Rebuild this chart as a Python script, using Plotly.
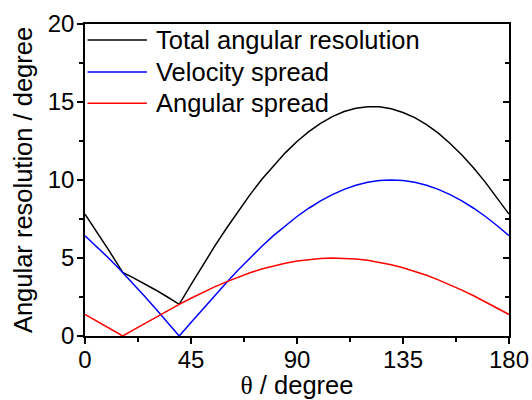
import plotly.graph_objects as go

theta = [0, 5, 10, 15, 16, 20, 25, 30, 35, 40, 45, 50, 55, 60, 65, 70, 75, 80, 85, 90,
         95, 100, 105, 110, 115, 120, 125, 130, 135, 140, 145, 150, 155, 160, 165,
         170, 175, 180]

total = [7.81, 6.69, 5.52, 4.32, 4.07, 3.77, 3.37, 2.95, 2.50, 2.03, 3.29, 4.54, 5.74,
         6.89, 8.00, 9.05, 10.03, 10.92, 11.74, 12.47, 13.10, 13.63, 14.06, 14.39,
         14.60, 14.70, 14.69, 14.57, 14.33, 14.00, 13.55, 13.00, 12.34, 11.60, 10.77,
         9.85, 8.86, 7.81]

velocity = [6.43, 5.74, 5.00, 4.23, 4.07, 3.42, 2.59, 1.74, 0.87, 0.00, 0.87, 1.74, 2.59,
            3.42, 4.23, 5.00, 5.74, 6.43, 7.07, 7.66, 8.19, 8.66, 9.06, 9.40, 9.66, 9.85,
            9.96, 10.00, 9.96, 9.85, 9.66, 9.40, 9.06, 8.66, 8.19, 7.66, 7.07, 6.43]

angular = [1.38, 0.95, 0.52, 0.09, 0.00, 0.35, 0.78, 1.21, 1.63, 2.03, 2.42, 2.80, 3.15,
           3.47, 3.77, 4.05, 4.29, 4.49, 4.67, 4.81, 4.91, 4.97, 5.00, 4.99, 4.94, 4.85,
           4.73, 4.57, 4.37, 4.15, 3.89, 3.60, 3.28, 2.94, 2.58, 2.19, 1.79, 1.38]

series_names = ["Total angular resolution", "Velocity spread", "Angular spread"]
series_colors = ["black", "#0000ff", "#ff0000"]

x_ticks = [0, 45, 90, 135, 180]
y_ticks = [0, 5, 10, 15, 20]

FONT = "Liberation Sans, Arial, sans-serif"

fig = go.Figure()
for name, vals, col in zip(series_names, [total, velocity, angular], series_colors):
    fig.add_trace(go.Scatter(x=theta, y=vals, mode="lines", name=name,
                             line=dict(color=col, width=1.5), showlegend=False))
# invisible trace to carry the right-hand inner ticks
fig.add_trace(go.Scatter(x=[theta[0]], y=[angular[0]], yaxis="y2", mode="lines",
                         showlegend=False, hoverinfo="skip", line=dict(width=0)))

# legend drawn in the upper-left corner (paper coordinates)
legend_rows_y = [0.949, 0.846, 0.746]
for name, col, yy in zip(series_names, series_colors, legend_rows_y):
    fig.add_shape(type="line", xref="paper", yref="paper", x0=0.006, x1=0.146,
                  y0=yy, y1=yy, line=dict(color=col, width=1.5))
    fig.add_annotation(xref="paper", yref="paper", x=0.162, y=yy, text=name,
                       xanchor="left", yanchor="middle", showarrow=False,
                       font=dict(size=25.5, color="black", family=FONT))

fig.update_layout(
    width=532, height=400,
    margin=dict(l=85, r=23, t=24, b=64),
    paper_bgcolor="white", plot_bgcolor="white",
    font=dict(family=FONT, size=24, color="black"),
    showlegend=False,
    xaxis=dict(range=[0, 180], tickvals=x_ticks, showgrid=False, zeroline=False,
               automargin=False,
               showline=True, linecolor="black", linewidth=1.5, mirror=True,
               ticks="outside", ticklen=6, tickwidth=1.5, tickcolor="black",
               ticklabelstandoff=-5,
               minor=dict(ticks="outside", dtick=22.5, tick0=0, ticklen=4,
                          tickwidth=1.5, tickcolor="black", showgrid=False),
               title=dict(text="<span style='font-family:Liberation Serif'>θ</span> / degree",
                          standoff=2, font=dict(size=25.5))),
    yaxis=dict(range=[0, 20], tickvals=y_ticks, showgrid=False, zeroline=False,
               automargin=False,
               showline=True, linecolor="black", linewidth=1.5, mirror=True,
               ticks="outside", ticklen=6, tickwidth=1.5, tickcolor="black",
               ticklabelstandoff=-2,
               minor=dict(ticks="outside", dtick=2.5, tick0=0, ticklen=4,
                          tickwidth=1.5, tickcolor="black", showgrid=False),
               title=dict(text="Angular resolution / degree", standoff=8,
                          font=dict(size=25.5))),
    yaxis2=dict(range=[0, 20], overlaying="y", side="right", tickvals=y_ticks,
                automargin=False,
                showticklabels=False, showgrid=False, zeroline=False, showline=False,
                ticks="inside", ticklen=6, tickwidth=1.5, tickcolor="black",
                minor=dict(ticks="inside", dtick=2.5, tick0=0, ticklen=4,
                           tickwidth=1.5, tickcolor="black", showgrid=False)),
)

fig.write_html("out.html")
